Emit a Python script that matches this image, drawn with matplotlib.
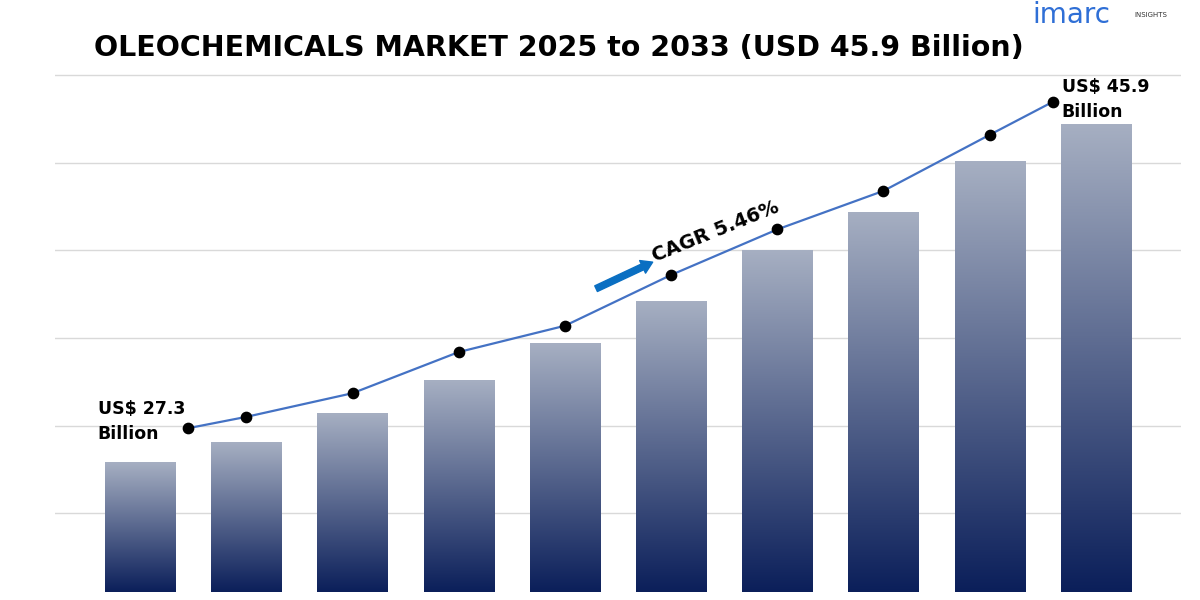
import matplotlib
matplotlib.use("Agg")
import matplotlib.pyplot as plt
import numpy as np
from matplotlib.colors import LinearSegmentedColormap

years = [2024, 2025, 2026, 2027, 2028, 2029, 2030, 2031, 2032, 2033]
bar_heights = [1.48, 1.71, 2.04, 2.42, 2.84, 3.32, 3.90, 4.34, 4.92, 5.34]
line_x = [0.45, 1.0, 2.0, 3.0, 4.0, 5.0, 6.0, 7.0, 8.0, 8.6]
line_y = [1.87, 2.00, 2.27, 2.74, 3.04, 3.62, 4.14, 4.58, 5.22, 5.60]
grid_vals = [0.9, 1.9, 2.9, 3.9, 4.9, 5.9]

fig = plt.figure(figsize=(12, 6), dpi=100)
ax = fig.add_axes([0.046, 0.0133, 0.938, 0.870])
for s in ax.spines.values():
    s.set_visible(False)
ax.set_xticks([]); ax.set_yticks([])
for g in grid_vals:
    ax.axhline(g, color="#d9d9d9", lw=1, zorder=0)

cmap = LinearSegmentedColormap.from_list("g", ["#0b1f5a", "#a6afc2"])
grad = np.linspace(0, 1, 256).reshape(-1, 1)
w = 0.66
for i, h in enumerate(bar_heights):
    rect = plt.Rectangle((i - w/2, 0), w, h, facecolor="none", edgecolor="none")
    ax.add_patch(rect)
    im = ax.imshow(grad, cmap=cmap, extent=[i - w/2, i + w/2, 0, h],
                   origin="lower", aspect="auto", zorder=1)
    im.set_clip_path(rect)

ax.plot(line_x, line_y, color="#4472c4", lw=1.6, zorder=3)
ax.scatter(line_x, line_y, color="black", s=55, zorder=4)

ax.text(-0.4, 1.7, "US$ 27.3\nBillion", fontsize=12.5, fontweight="bold",
        va="bottom", ha="left", linespacing=1.5)
ax.text(8.68, 5.38, "US$ 45.9\nBillion", fontsize=12.5, fontweight="bold",
        va="bottom", ha="left", linespacing=1.5)
ax.text(4.8, 3.72, "CAGR 5.46%", fontsize=14, fontweight="bold", rotation=22,
        ha="left", va="bottom")
ax.annotate("", xy=(4.85, 3.78), xytext=(4.27, 3.45),
            arrowprops=dict(arrowstyle="simple,head_width=1.0,head_length=0.8,tail_width=0.45",
                            color="#0a6fc2"))
ax.set_xlim(-0.8, 9.8)
ax.set_ylim(0, 5.96)

fig.text(0.078, 0.92, "OLEOCHEMICALS MARKET 2025 to 2033 (USD 45.9 Billion)",
         fontsize=20.5, fontweight="bold", ha="left", va="center")
fig.text(0.86, 0.975, "imarc", fontsize=20, color="#2f6fd6", ha="left", va="center")
fig.text(0.945, 0.975, "INSIGHTS", fontsize=5, color="#333", ha="left", va="center")
fig.savefig("out.png", dpi=100)
